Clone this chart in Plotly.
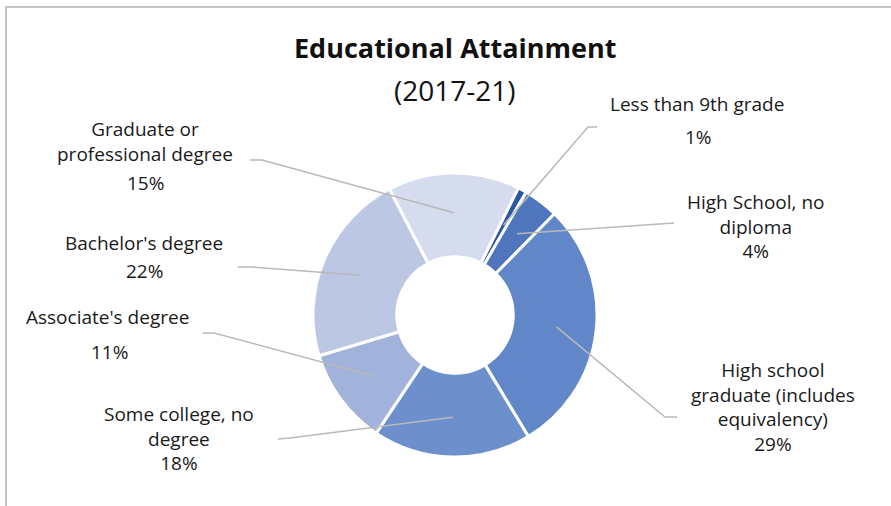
import math
import plotly.graph_objects as go

# ---- data ----
categories = ["Less than 9th grade", "High School, no diploma",
              "High school graduate (includes equivalency)",
              "Some college, no degree", "Associate's degree",
              "Bachelor's degree", "Graduate or professional degree"]
shares = [1, 4, 29, 18, 11, 22, 15]
label_lines = [["Less than 9th grade"], ["High School, no", "diploma"],
               ["High school", "graduate (includes", "equivalency)"],
               ["Some college, no", "degree"], ["Associate's degree"],
               ["Bachelor's degree"], ["Graduate or", "professional degree"]]
pct_text = [f"{v}%" for v in shares]

# ---- style / layout ----
W, H = 891, 506
CX, CY, R = 455, 315, 142
HOLE = 0.41
ROT = 26.5
colors = ["#2c57a2", "#4f75bc", "#6287c8", "#6d8fcc", "#a1b2db", "#bcc7e4", "#d4dcee"]
FONT = "Open Sans"
FS = 19
TXT = "#1a1a1a"
LINE_C = "#b9b9b9"

# label positions (pixel). pct_pos None -> percentage is the block's last line
name_pos = [(697, 104), (755, 226), (773, 407), (179, 438), (107, 317), (144, 243), (145, 142)]
pct_pos = [(698, 137), None, None, None, (109, 352), (144, 271), (145, 183)]
# leader outer ends: (elbow, end)
leader_out = [((588, 127), (597, 127)), ((674, 223), (674, 223)),
              ((665, 417), (677, 417)), ((290, 438), (278, 439)),
              ((214, 333), (203, 333)), ((252, 267), (238, 267)),
              ((262, 160), (250, 160))]


def px(x):
    return x / W


def py(y):
    return 1 - y / H


fig = go.Figure()
fig.add_trace(go.Pie(
    labels=categories, values=shares, sort=False, direction="clockwise",
    rotation=ROT, hole=HOLE, textinfo="none", hoverinfo="label+percent",
    marker=dict(colors=colors, line=dict(color="white", width=3)),
    domain=dict(x=[px(CX - R), px(CX + R)], y=[py(CY + R), py(CY - R)]),
    showlegend=False,
))

shapes = []
# frame lines
shapes.append(dict(type="line", xref="paper", yref="paper", x0=px(5), x1=px(891),
                   y0=py(7), y1=py(7), line=dict(color="#c4c4c4", width=2)))
shapes.append(dict(type="line", xref="paper", yref="paper", x0=px(6), x1=px(6),
                   y0=py(7), y1=py(506), line=dict(color="#c4c4c4", width=2)))

# leader lines computed from slice mid angles
total = sum(shares)
cum = 0
for i, v in enumerate(shares):
    mid = ROT + (cum + v / 2) / total * 360
    cum += v
    a = math.radians(mid)
    r = 0.72 * R
    ix, iy = CX + r * math.sin(a), CY - r * math.cos(a)
    (ex, ey), (ox, oy) = leader_out[i]
    path = f"M{px(ix)},{py(iy)} L{px(ex)},{py(ey)} L{px(ox)},{py(oy)}"
    shapes.append(dict(type="path", xref="paper", yref="paper", path=path,
                       line=dict(color=LINE_C, width=1.5)))

annotations = []
for i in range(len(categories)):
    x, y = name_pos[i]
    lines = list(label_lines[i])
    if pct_pos[i] is None:
        lines.append(pct_text[i])
    annotations.append(dict(x=px(x), y=py(y), xref="paper", yref="paper",
                            text="<br>".join(lines), showarrow=False,
                            xanchor="center", yanchor="middle", align="center",
                            font=dict(family=FONT, size=FS, color=TXT)))
    if pct_pos[i] is not None:
        x, y = pct_pos[i]
        annotations.append(dict(x=px(x), y=py(y), xref="paper", yref="paper",
                                text=pct_text[i], showarrow=False, xanchor="center",
                                yanchor="middle",
                                font=dict(family=FONT, size=FS, color=TXT)))

annotations.append(dict(x=px(455), y=py(47), xref="paper", yref="paper",
                        text="<b>Educational Attainment</b>", showarrow=False,
                        xanchor="center", yanchor="middle",
                        font=dict(family=FONT, size=27, color="#111111")))
annotations.append(dict(x=px(455), y=py(90), xref="paper", yref="paper",
                        text="(2017-21)", showarrow=False,
                        xanchor="center", yanchor="middle",
                        font=dict(family=FONT, size=28, color="#111111")))

fig.update_layout(width=W, height=H, autosize=False,
                  margin=dict(l=0, r=0, t=0, b=0),
                  paper_bgcolor="white", plot_bgcolor="white",
                  shapes=shapes, annotations=annotations)

fig.write_html("out.html", config={"displayModeBar": False},
               post_script="document.body.style.margin='0';")
